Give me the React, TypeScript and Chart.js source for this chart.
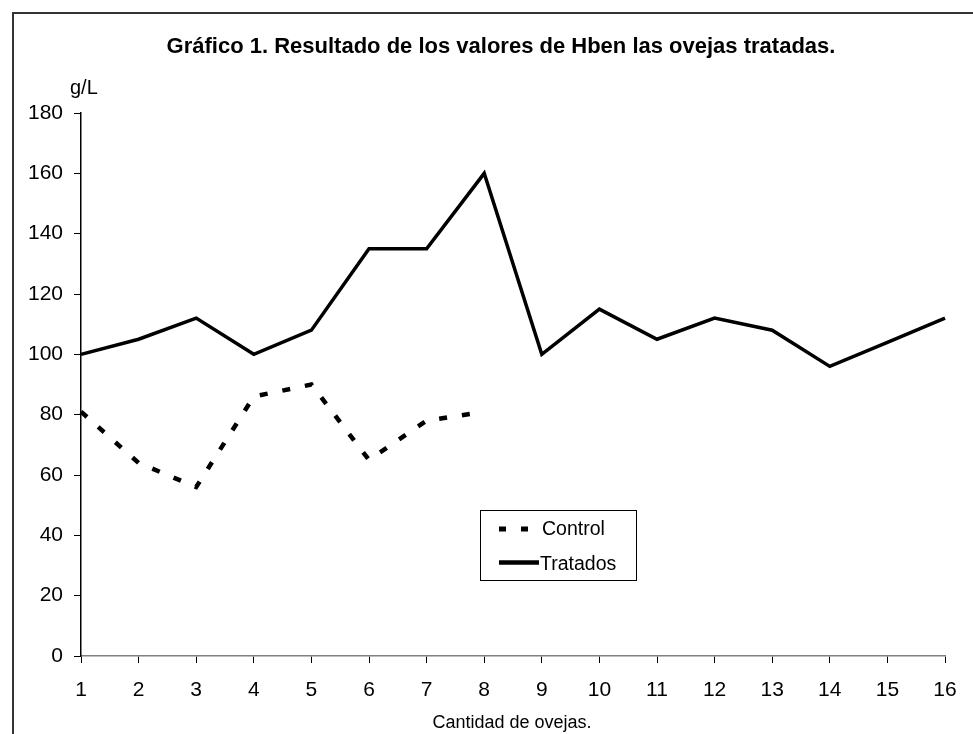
import React, { useEffect, useRef } from "react";
import { Chart, registerables } from "chart.js";

Chart.register(...registerables);

const categories = ["1","2","3","4","5","6","7","8","9","10","11","12","13","14","15","16"];
const controlValues = [81, 64, 56, 86, 90, 65, 78, 81];
const tratadosValues = [100, 105, 112, 100, 108, 135, 135, 160, 100, 115, 105, 112, 108, 96, 104, 112];
const seriesLabels = ["Control", "Tratados"];
const titleText = "Gráfico 1. Resultado de los valores de Hben las ovejas tratadas.";
const yUnitText = "g/L";
const xTitleText = "Cantidad de ovejas.";

const FONT = "Arial, 'Liberation Sans', sans-serif";

const decorPlugin = {
  id: "decor",
  afterDraw(chart: any) {
    const ctx = chart.ctx;
    ctx.save();
    // outer frame
    ctx.strokeStyle = "#333";
    ctx.lineWidth = 2;
    ctx.strokeRect(13, 13, 1200, 1200);
    // title
    ctx.fillStyle = "#000";
    ctx.font = "bold 22px " + FONT;
    ctx.textAlign = "center";
    ctx.textBaseline = "alphabetic";
    ctx.fillText(titleText, 501, 53);
    // unit
    ctx.font = "20px " + FONT;
    ctx.textAlign = "left";
    ctx.fillText(yUnitText, 70, 94);
    // x title
    ctx.font = "18px " + FONT;
    ctx.textAlign = "center";
    ctx.fillText(xTitleText, 512, 728);
    // legend
    const lx = 480.5, ly = 510.5, lw = 156, lh = 70;
    ctx.fillStyle = "#fff";
    ctx.fillRect(lx, ly, lw, lh);
    ctx.strokeStyle = "#000";
    ctx.lineWidth = 1;
    ctx.strokeRect(lx, ly, lw, lh);
    const ds = chart.data.datasets;
    const lineY = [529, 562.5];
    const textY = [535, 570];
    const textX = [542, 540];
    ds.forEach((d: any, i: number) => {
      const dashed = d.borderDash && d.borderDash.length;
      ctx.beginPath();
      ctx.strokeStyle = "#000";
      ctx.lineWidth = dashed ? 5 : 4.5;
      ctx.setLineDash(dashed ? [7, 15] : []);
      ctx.lineCap = "butt";
      ctx.moveTo(499, lineY[i]);
      ctx.lineTo(dashed ? 529 : 539, lineY[i]);
      ctx.stroke();
      ctx.setLineDash([]);
      ctx.fillStyle = "#000";
      ctx.font = "19.5px " + FONT;
      ctx.textAlign = "left";
      ctx.textBaseline = "alphabetic";
      ctx.fillText(d.label, textX[i], textY[i]);
    });
    ctx.restore();
  },
};

export default function App() {
  const ref = useRef<HTMLCanvasElement | null>(null);
  useEffect(() => {
    if (!ref.current) return;
    const chart = new Chart(ref.current, {
      type: "line",
      data: {
        labels: categories,
        datasets: [
          {
            label: seriesLabels[0],
            data: controlValues,
            borderColor: "#000",
            borderWidth: 4.5,
            borderDash: [8, 15],
            pointRadius: 0,
            tension: 0,
            fill: false,
          },
          {
            label: seriesLabels[1],
            data: tratadosValues,
            borderColor: "#000",
            borderWidth: 3.5,
            pointRadius: 0,
            tension: 0,
            fill: false,
          },
        ],
      },
      options: {
        responsive: false,
        animation: false,
        devicePixelRatio: 1,
        layout: { padding: { left: 0, top: 113, right: 28, bottom: 0 } },
        plugins: {
          legend: { display: false },
          title: { display: false },
          tooltip: { enabled: false },
        },
        scales: {
          x: {
            type: "category",
            offset: false,
            grid: { drawOnChartArea: false, drawTicks: true, tickLength: 7, color: "#000", lineWidth: 1 },
            border: { color: "#808080", width: 1.5 },
            ticks: { color: "#000", font: { size: 21, family: FONT }, padding: 15, maxRotation: 0, autoSkip: false },
            afterFit: (s: any) => { s.height = 78; },
          },
          y: {
            min: 0,
            max: 180,
            grid: { drawOnChartArea: false, drawTicks: true, tickLength: 7, color: "#000", lineWidth: 1 },
            border: { color: "#000", width: 1.5 },
            ticks: { stepSize: 20, color: "#000", font: { size: 21, family: FONT }, padding: 11 },
            afterFit: (s: any) => { s.width = 81; },
          },
        },
      },
      plugins: [decorPlugin],
    } as any);
    return () => chart.destroy();
  }, []);
  return (
    <div style={{ position: "absolute", left: 0, top: 0, width: 973, height: 734, background: "#fff" }}>
      <canvas ref={ref} width={973} height={734} style={{ display: "block" }} />
    </div>
  );
}
